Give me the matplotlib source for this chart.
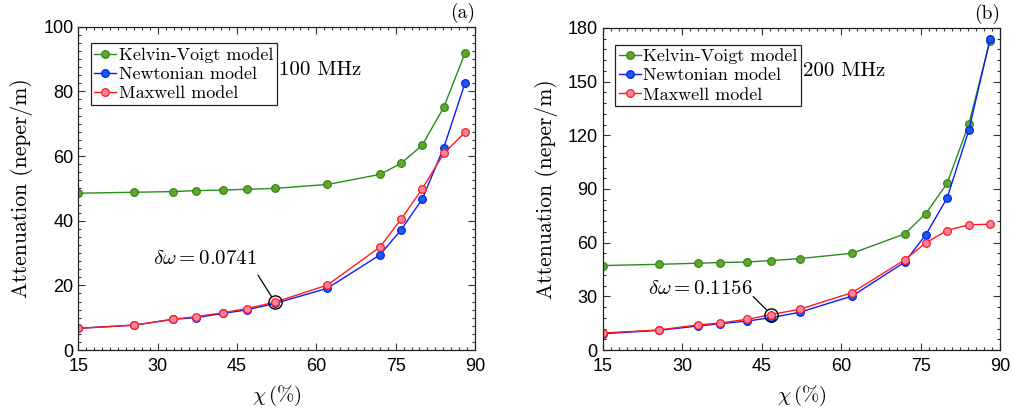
import matplotlib
matplotlib.use("Agg")
import matplotlib.pyplot as plt
from matplotlib.ticker import MultipleLocator

plt.rcParams['mathtext.fontset'] = 'cm'
plt.rcParams['font.family'] = ['Liberation Sans', 'DejaVu Sans']

chi = [15, 25.6, 32.9, 37.2, 42.3, 46.8, 52.2, 62.1, 72.0, 76.0, 80.0, 84.1, 88.1]

kv_100 = [48.5, 48.8, 49.0, 49.3, 49.5, 49.7, 50.0, 51.2, 54.3, 57.7, 63.3, 75.1, 91.8]
newt_100 = [6.7, 7.7, 9.5, 10.0, 11.3, 12.4, 14.4, 19.1, 29.4, 37.1, 46.6, 62.6, 82.5]
maxw_100 = [6.7, 7.7, 9.5, 10.3, 11.5, 12.8, 14.8, 20.1, 31.8, 40.4, 49.8, 60.8, 67.3]

kv_200 = [47.2, 47.9, 48.5, 48.9, 49.2, 50.0, 51.1, 54.1, 64.9, 76.3, 93.1, 126.1, 172.7]
newt_200 = [9.1, 11.0, 13.4, 14.7, 16.2, 18.1, 21.1, 30.2, 49.1, 64.5, 84.9, 122.7, 173.7]
maxw_200 = [9.5, 11.2, 14.0, 15.1, 17.2, 19.8, 22.8, 32.1, 50.4, 59.9, 66.8, 70.0, 70.3]

labels = ['Kelvin-Voigt model', 'Newtonian model', 'Maxwell model']
xticks = [15, 30, 45, 60, 75, 90]

styles = [
    dict(color='#2a8c1c', mfc='#6aa22a', mec='#2a8c1c'),
    dict(color='#0a1cff', mfc='#1560d8', mec='#0a1cff'),
    dict(color='#ff1a1a', mfc='#ff85a5', mec='#ff1a1a'),
]

SERIF = 'cmr10'

fig = plt.figure(figsize=(10.13, 4.11), dpi=100)
ax1 = fig.add_axes([0.0773, 0.1484, 0.3916, 0.7866])
ax2 = fig.add_axes([0.595, 0.1484, 0.3922, 0.7835])

panels = [
    (ax1, [kv_100, newt_100, maxw_100], 100, 20, 2.5, '100 MHz', r'$\delta\omega = 0.0741$',
     6, '(a)', (-18, 38), (-17, 27)),
    (ax2, [kv_200, newt_200, maxw_200], 180, 30, 6, '200 MHz', r'$\delta\omega = 0.1156$',
     5, '(b)', (-19, 21), (-18, 18)),
]

for ax, series, ymax, ystep, yminor, freq, ann, idx, tag, toff, loff in panels:
    for s, lab, st in zip(series, labels, styles):
        ax.plot(chi, s, '-o', lw=1.0, ms=5.5, mew=0.9, label=lab, **st)
    ax.set_xlim(15, 90)
    ax.set_ylim(0, ymax)
    ax.set_xticks(xticks)
    ax.set_yticks(range(0, ymax + 1, ystep))
    ax.xaxis.set_minor_locator(MultipleLocator(1.5))
    ax.yaxis.set_minor_locator(MultipleLocator(yminor))
    ax.tick_params(which='both', direction='in', top=True, right=True,
                   labelsize=13, width=0.8, color='#333333')
    ax.tick_params(axis='x', which='major', pad=6)
    ax.tick_params(which='major', length=5)
    ax.tick_params(which='minor', length=2.5)
    for sp in ax.spines.values():
        sp.set_linewidth(0.9)
        sp.set_color('#222222')
    ax.set_xlabel(r'$\chi\,(\%)$', fontsize=15, labelpad=6)
    ax.set_ylabel('Attenuation (neper/m)', fontsize=15.5, family=SERIF, labelpad=7)
    leg = ax.legend(loc='upper left', bbox_to_anchor=(0.018, 0.965),
                    prop={'family': SERIF, 'size': 13},
                    handlelength=1.2, handletextpad=0.15, borderpad=0.2,
                    labelspacing=0.2, fancybox=False, framealpha=1,
                    edgecolor='#222222', borderaxespad=0.3)
    leg.get_frame().set_linewidth(0.9)
    ax.text(0.505, 0.865, freq, transform=ax.transAxes, fontsize=15,
            family=SERIF, va='center', ha='left')
    # highlighted point
    xp, yp = chi[idx], series[2][idx]
    ax.plot([xp], [yp], 'o', ms=9.5, mfc='none', mec='black', mew=1.0)
    ax.annotate('', xy=(xp, yp), xycoords='data',
                xytext=loff, textcoords='offset pixels',
                arrowprops=dict(arrowstyle='-', color='black', lw=0.9,
                                shrinkA=0, shrinkB=4.7))
    ax.annotate(ann, xy=(xp, yp), xycoords='data',
                xytext=toff, textcoords='offset pixels',
                fontsize=15, ha='right', va='baseline')
    ax.text(1.0, 1.012, tag, transform=ax.transAxes, fontsize=14,
            family=SERIF, ha='right', va='bottom')

fig.savefig('out.png', dpi=100)
